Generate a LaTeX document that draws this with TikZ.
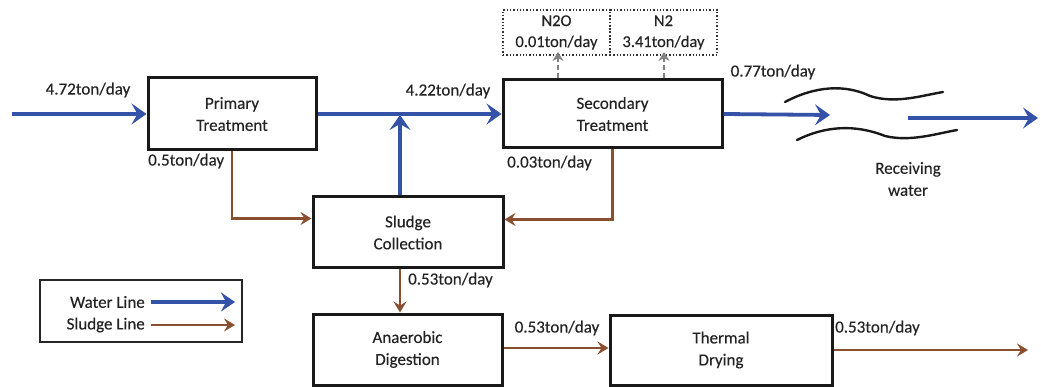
\documentclass[tikz,border=0pt]{standalone}
\usepackage{fontspec}
\setmainfont{Carlito}[FakeBold=0.25]
\usetikzlibrary{arrows.meta,positioning,calc}
\definecolor{waterblue}{RGB}{52,82,168}
\definecolor{sludgebrown}{RGB}{138,78,48}
\definecolor{txt}{RGB}{35,35,35}
\definecolor{gasgray}{RGB}{130,130,130}
\tikzset{
  unit/.style={draw=black!90, line width=3pt, fill=white, rectangle, align=center,
    text=txt, font=\fontsize{17}{22}\selectfont, inner sep=0pt},
  gasbox/.style={draw=black!80, dotted, line width=1.3pt, rectangle, align=center,
    text=txt, font=\fontsize{16.5}{21}\selectfont, minimum width=107pt, minimum height=45pt, inner sep=0pt},
  flowlabel/.style={text=txt, font=\fontsize{17}{20}\selectfont, inner sep=0pt},
  water/.style={draw=waterblue, line width=3.8pt, -{Stealth[length=15pt,width=21pt,inset=6pt]}},
  sludge/.style={draw=sludgebrown, line width=2.2pt, -{Stealth[length=11pt,width=13pt,inset=4pt]}},
  gas/.style={draw=gasgray, line width=1.8pt, dashed, dash pattern=on 5pt off 3pt, -{Stealth[length=9pt,width=11pt,inset=3pt]}},
  wave/.style={draw=black!90, line width=2.4pt, line cap=round},
}
\begin{document}
\begin{tikzpicture}[x=1pt,y=-1pt]
\useasboundingbox (0,0) rectangle (1041,387);

% process units
\node[unit, minimum width=168pt, minimum height=72pt] (prim) at (232,114) {Primary\\Treatment};
\node[unit, minimum width=219pt, minimum height=68pt] (sec) at (612.5,114) {Secondary\\Treatment};
\node[unit, minimum width=190pt, minimum height=71pt] (coll) at (408,232.5) {Sludge\\Collection};
\node[unit, minimum width=189pt, minimum height=71pt] (dig) at (407.5,349.5) {Anaerobic\\Digestion};
\node[unit, minimum width=222pt, minimum height=70pt] (dry) at (721,350) {Thermal\\Drying};

% gas emissions
\node[gasbox] (n2o) at (556.5,32.5) {N2O\\0.01ton/day};
\node[gasbox] (n2) at (663.5,32.5) {N2\\3.41ton/day};

% free ends
\coordinate (inflow) at (12,114);
\coordinate (riverin) at (830,115);
\coordinate (riverout) at (908,118);
\coordinate (riverend) at (1038,118);
\coordinate (cakeout) at (1028,350);
\coordinate (colx) at (400,0);
\coordinate (n2ox) at (558,0);
\coordinate (n2x) at (664,0);

% water line
\draw[water] (inflow) -- (prim.west);
\draw[water] (prim.east) -- (sec.west);
\draw[water] (coll.north -| colx) -- ($(prim.east -| colx)+(0,1)$);
\draw[water] (sec.east) -- (riverin);
\draw[water] (riverout) -- (riverend);

% receiving water banks
\draw[wave] (785,102) .. controls (815,86) and (845,84) .. (870,96)
            .. controls (895,104) and (920,96) .. (943,92);
\draw[wave] (797,140) .. controls (825,126) and (855,124) .. (885,136)
            .. controls (910,142) and (935,134) .. (957,130);
\node[flowlabel, align=center, font=\fontsize{17}{22}\selectfont] (recv) at (908,179) {Receiving\\water};

% sludge line
\draw[sludge] (prim.south) |- ([yshift=14pt]coll.west);
\draw[sludge] (sec.south) |- ([yshift=13pt]coll.east);
\draw[sludge] (coll.south -| colx) -- (dig.north -| colx);
\draw[sludge] (dig.east |- 0,348) -- (dry.west |- 0,348);
\draw[sludge] (dry.east) -- (cakeout);

% gas off-takes
\draw[gas] (sec.north -| n2ox) -- (n2ox |- 0,52);
\draw[gas] (sec.north -| n2x) -- (n2x |- 0,52);

% flow labels
\node[flowlabel] (l1) at (88,90) {4.72ton/day};
\node[flowlabel] (l2) at (448,91) {4.22ton/day};
\node[flowlabel, anchor=west] (l3) at (148,161) {0.5ton/day};
\node[flowlabel, anchor=west] (l4) at (507,163) {0.03ton/day};
\node[flowlabel] (l5) at (773,72) {0.77ton/day};
\node[flowlabel, anchor=west] (l6) at (408,280) {0.53ton/day};
\node[flowlabel] (l7) at (557,328) {0.53ton/day};
\node[flowlabel, anchor=west] (l8) at (835,328) {0.53ton/day};

% legend
\node[draw=black!85, line width=1.2pt, minimum width=202pt, minimum height=62pt, inner sep=0pt] (legend) at (141,311) {};
\node[flowlabel, anchor=east] (lw) at (145,302) {Water Line};
\node[flowlabel, anchor=east] (ls) at (145,325) {Sludge Line};
\coordinate (lwend) at (235,302);
\coordinate (lsend) at (235,325);
\draw[water, line width=3.4pt, -{Stealth[length=14pt,width=19pt,inset=5pt]}] (lw.east) ++(6,0) -- (lwend);
\draw[sludge] (ls.east) ++(6,0) -- (lsend);
\end{tikzpicture}
\end{document}
